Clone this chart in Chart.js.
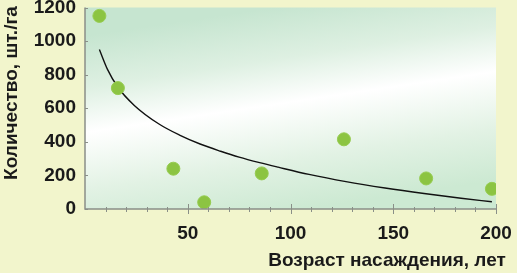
<!DOCTYPE html>
<html lang="ru">
<head>
<meta charset="utf-8">
<script src="https://cdn.jsdelivr.net/npm/chart.js@4/dist/chart.umd.min.js"></script>
<style>
  html, body { margin: 0; padding: 0; background: #f2f5cc; }
  #wrap { position: relative; width: 517px; height: 273px; }
</style>
</head>
<body>
<div id="wrap"><canvas id="chart" width="517" height="273"></canvas></div>
<script>
/* Количество деревьев по возрасту насаждения */
const ageYears = [7, 16, 43, 58, 86, 126, 166, 198];
const treesPerHa = [1150, 720, 240, 40, 212, 415, 182, 120];

// линия тренда
const trendAge = [7, 11, 16, 24, 36, 46, 56, 66, 75, 85, 94, 109, 127, 146, 165, 183, 198];
const trendValue = [950, 830, 725, 617, 506, 440, 387, 344, 309, 276, 249, 206, 163, 125, 92, 64, 43];

const xTicks = [50, 100, 150, 200];
const yTicks = [0, 200, 400, 600, 800, 1000, 1200];

const xTitle = "Возраст насаждения, лет";
const yTitle = "Количество, шт./га";

const FONT = "'Liberation Sans', Arial, sans-serif";

(function () {
  const plotBg = {
    id: "plotBg",
    beforeDraw(chart) {
      const { ctx, chartArea: a } = chart;
      const g = ctx.createLinearGradient(a.left + 190, a.top, a.left + 220, a.bottom);
      g.addColorStop(0, "rgb(198,229,208)");
      g.addColorStop(0.25, "rgb(222,240,226)");
      g.addColorStop(0.47, "rgb(255,255,255)");
      g.addColorStop(0.75, "rgb(226,242,228)");
      g.addColorStop(1, "rgb(204,233,210)");
      ctx.save();
      ctx.fillStyle = g;
      ctx.fillRect(a.left, a.top, a.right - a.left, a.bottom - a.top);
      ctx.restore();
    },
  };

  const axesMarks = {
    id: "axesMarks",
    afterDatasetsDraw(chart) {
      const { ctx, chartArea: a, scales } = chart;
      ctx.save();
      ctx.strokeStyle = "#8a8f88";
      ctx.lineWidth = 1.5;
      ctx.beginPath();
      ctx.moveTo(a.left, a.top);
      ctx.lineTo(a.left, a.bottom);
      ctx.lineTo(a.right, a.bottom);
      ctx.stroke();

      ctx.lineWidth = 1;
      ctx.beginPath();
      for (let v = 10; v <= 200; v += 10) {
        const px = Math.round(scales.x.getPixelForValue(v)) + 0.5;
        const major = v % 50 === 0;
        ctx.moveTo(px, a.bottom - (major ? 5 : 2));
        ctx.lineTo(px, a.bottom + (major ? 5 : 3));
      }
      yTicks.forEach((v) => {
        const py = Math.round(scales.y.getPixelForValue(v)) + 0.5;
        ctx.moveTo(a.left, py);
        ctx.lineTo(a.left + 3, py);
      });
      ctx.stroke();

      ctx.fillStyle = "#1a1a1a";
      ctx.font = "bold 19px " + FONT;
      ctx.textAlign = "center";
      ctx.textBaseline = "middle";
      ctx.fillText(xTitle, 387, 261);
      ctx.translate(12, 93);
      ctx.rotate(-Math.PI / 2);
      ctx.fillText(yTitle, 0, 0);
      ctx.restore();
    },
  };

  const tickFont = { family: FONT, size: 19, weight: "bold" };

  new Chart(document.getElementById("chart"), {
    type: "scatter",
    data: {
      datasets: [
        {
          label: "тренд",
          data: trendAge.map((x, i) => ({ x, y: trendValue[i] })),
          showLine: true,
          borderColor: "#111",
          borderWidth: 1.4,
          pointRadius: 0,
          tension: 0.4,
          cubicInterpolationMode: "monotone",
          order: 2,
        },
        {
          label: "деревья",
          data: ageYears.map((x, i) => ({ x, y: treesPerHa[i] })),
          backgroundColor: "rgb(140,196,66)",
          borderColor: "rgb(150,204,80)",
          borderWidth: 1,
          pointRadius: 6.5,
          order: 1,
        },
      ],
    },
    options: {
      responsive: false,
      animation: false,
      events: [],
      layout: { padding: { top: 7, right: 21, left: 0, bottom: 0 } },
      plugins: { legend: { display: false }, tooltip: { enabled: false } },
      scales: {
        x: {
          type: "linear",
          min: 0,
          max: 200,
          afterBuildTicks: (s) => (s.ticks = xTicks.map((v) => ({ value: v }))),
          afterFit: (s) => {
            s.height = 64;
            s.paddingLeft = 0;
            s.paddingRight = 0;
          },
          grid: { display: false, drawTicks: false },
          border: { display: false },
          ticks: { padding: 13, color: "#1a1a1a", font: tickFont, maxRotation: 0, callback: (v) => String(v) },
        },
        y: {
          min: 0,
          max: 1200,
          afterBuildTicks: (s) => (s.ticks = yTicks.map((v) => ({ value: v }))),
          afterFit: (s) => {
            s.width = 85;
            s.paddingTop = 0;
            s.paddingBottom = 0;
          },
          grid: { display: false, drawTicks: false },
          border: { display: false },
          ticks: { padding: 9, color: "#1a1a1a", font: tickFont, callback: (v) => String(v) },
        },
      },
    },
    plugins: [plotBg, axesMarks],
  });
})();
</script>
</body>
</html>
